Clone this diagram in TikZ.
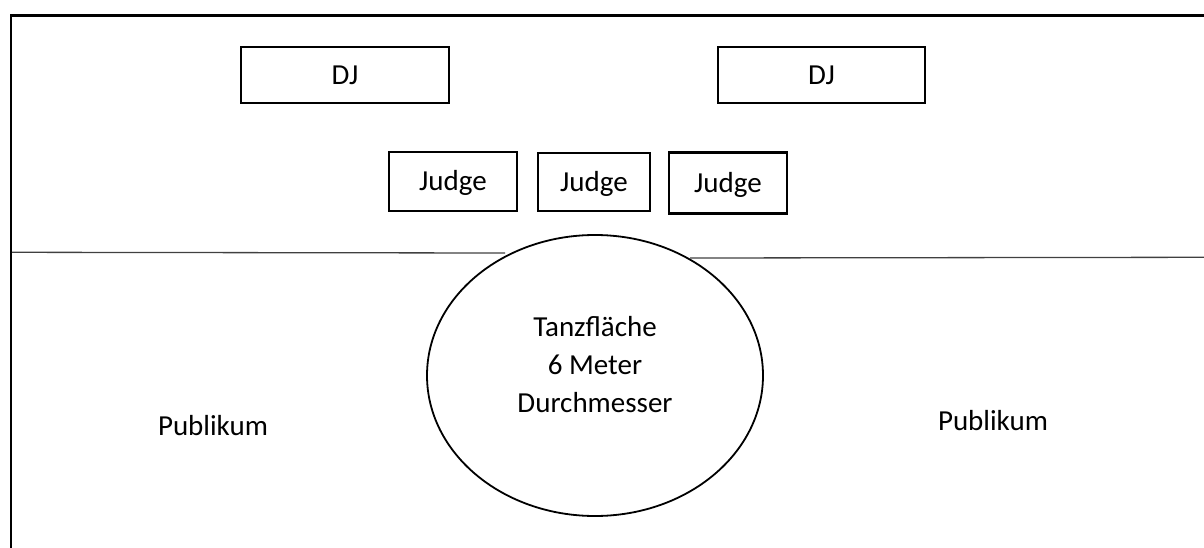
\documentclass[tikz,border=0pt]{standalone}
\usepackage{fontspec}
\setmainfont{Carlito}
\usetikzlibrary{shapes.geometric}
\begin{document}
\begin{tikzpicture}[x=1pt,y=-1pt,
  lbl/.style={font=\fontsize{29}{38}\selectfont, inner sep=0pt, text height=18.5pt, text depth=0pt},
  box/.style={draw, line width=2.3pt, inner sep=0pt, lbl},
  txt/.style={font=\fontsize{29}{38}\selectfont, inner sep=0pt, anchor=base},
  thin/.style={line width=1.3pt, draw=black!75}]
\useasboundingbox (0,0) rectangle (1204,548);
% frame
\coordinate (fbl) at (11,548);
\coordinate (ftl) at (11,15.5);
\coordinate (ftr) at (1204,15.5);
\draw[line width=2.6pt] (fbl) -- (ftl) -- (ftr);
% DJ boxes
\node[box, minimum width=208pt, minimum height=56pt] (dj1) at (345,75) {DJ};
\node[box, minimum width=207pt, minimum height=56pt] (dj2) at (821.5,75) {DJ};
% Judge boxes
\node[box, minimum width=128pt, minimum height=59pt] (j1) at (453,181.5) {Judge};
\node[box, minimum width=112pt, minimum height=58pt] (j2) at (594,182) {Judge};
\node[box, minimum width=118pt, minimum height=61pt] (j3) at (728,183) {Judge};
% dance floor
\node[ellipse, draw, line width=1.8pt, minimum width=336pt, minimum height=281pt, inner sep=0pt] (floor) at (595,375.5) {};
\node[txt] (t1) at (595,336) {Tanzfläche};
\node[txt] (t2) at (595,374) {6 Meter};
\node[txt] (t3) at (595,412) {Durchmesser};
% dividing lines
\coordinate (ll) at (12,252.3);
\coordinate (lr) at (505,253);
\coordinate (rl) at (690,258);
\coordinate (rr) at (1204,257.3);
\draw[thin] (ll) -- (lr);
\draw[thin] (rl) -- (rr);
% audience
\node[txt] (p1) at (213,435) {Publikum};
\node[txt] (p2) at (993,430) {Publikum};
\end{tikzpicture}
\end{document}
